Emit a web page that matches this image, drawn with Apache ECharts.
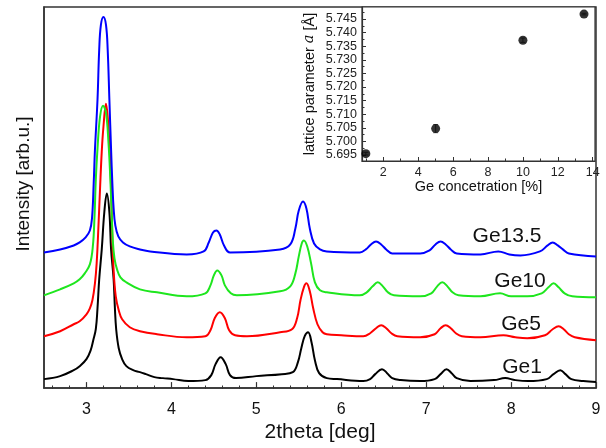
<!DOCTYPE html>
<html><head><meta charset="utf-8">
<script src="https://cdn.jsdelivr.net/npm/echarts@6/dist/echarts.min.js"></script>
<style>html,body{margin:0;padding:0;background:#fff}#c{width:606px;height:448px}</style>
</head><body><div id="c"></div>
<script>
// ---- Main XRD data: [2theta (deg), intensity (arb.u.)] ----
const ge1 = [[2.5,9],[2.69,12],[2.85,18],[2.92,22],[3.0,29],[3.05,38],[3.08,48],[3.11,59],[3.13,80],[3.15,109],[3.18,139],[3.21,176],[3.24,195],[3.27,176],[3.29,139],[3.32,109],[3.335,80],[3.35,59],[3.38,40],[3.42,29],[3.47,22],[3.55,18],[3.63,16],[3.7,14],[3.8,11],[3.9,10],[4.02,9],[4.2,7],[4.40,8],[4.47,13],[4.52,24],[4.58,31],[4.64,24],[4.69,13],[4.76,10],[5.0,12],[5.3,14],[5.43,16],[5.49,26],[5.53,40],[5.57,52],[5.61,56],[5.65,46],[5.69,28],[5.74,15],[5.83,10],[5.95,9],[6.26,7],[6.34,9],[6.40,14],[6.48,19],[6.54,15],[6.60,10],[6.7,8],[6.93,7],[7.10,9],[7.17,14],[7.24,19],[7.30,15],[7.36,10],[7.52,7],[7.8,8],[7.93,10],[8.05,8],[8.2,7],[8.42,9],[8.50,14],[8.58,18],[8.64,14],[8.71,9],[8.85,7],[9.0,6]];
const ge5 = [[2.5,52],[2.69,57],[2.85,64],[2.92,67],[3.0,74],[3.04,80],[3.07,88],[3.10,105],[3.12,125],[3.14,160],[3.16,200],[3.18,237],[3.20,262],[3.23,285],[3.25,272],[3.27,245],[3.285,215],[3.295,185],[3.305,150],[3.32,118],[3.345,92],[3.38,78],[3.42,69],[3.51,61],[3.63,57],[3.83,54],[4.18,51],[4.40,52],[4.46,58],[4.51,70],[4.57,76],[4.63,70],[4.68,58],[4.75,53],[4.89,52],[5.28,56],[5.42,59],[5.48,70],[5.52,88],[5.56,101],[5.59,105],[5.63,97],[5.67,80],[5.72,64],[5.78,56],[5.83,54],[6.0,53],[6.26,52],[6.34,55],[6.41,60],[6.47,63],[6.53,60],[6.59,55],[6.66,52],[6.93,51],[7.10,54],[7.17,60],[7.23,63],[7.29,60],[7.35,55],[7.42,52],[7.64,51],[7.91,53],[8.05,51],[8.19,50],[8.40,53],[8.49,59],[8.56,62],[8.62,59],[8.68,54],[8.75,51],[9.0,48]];
const ge10 = [[2.5,93],[2.69,99],[2.85,105],[2.92,109],[2.98,115],[3.04,124],[3.075,142],[3.095,172],[3.11,209],[3.13,240],[3.16,272],[3.195,283],[3.23,276],[3.26,245],[3.28,212],[3.295,180],[3.31,148],[3.33,130],[3.36,119],[3.40,111],[3.47,106],[3.63,99],[3.83,96],[4.18,92],[4.40,95],[4.46,103],[4.50,113],[4.54,118],[4.59,113],[4.63,103],[4.70,95],[4.77,93],[5.28,97],[5.40,102],[5.46,115],[5.50,132],[5.535,145],[5.56,148],[5.60,142],[5.645,125],[5.69,106],[5.75,98],[5.83,96],[6.22,93],[6.30,96],[6.37,102],[6.43,106],[6.49,102],[6.55,96],[6.62,93],[6.93,92],[7.06,95],[7.13,102],[7.19,106],[7.25,102],[7.31,96],[7.38,93],[7.64,92],[7.87,95],[8.0,92],[8.19,92],[8.36,95],[8.44,101],[8.50,105],[8.56,101],[8.63,95],[8.72,92],[9.0,91]];
const ge135 = [[2.5,136],[2.69,139],[2.85,143],[2.92,146],[2.99,151],[3.04,158],[3.065,170],[3.085,205],[3.10,239],[3.13,289],[3.15,339],[3.17,364],[3.20,372],[3.23,364],[3.25,339],[3.27,289],[3.29,239],[3.305,205],[3.32,180],[3.34,163],[3.375,152],[3.43,146],[3.51,142],[3.63,139],[3.75,137],[4.18,134],[4.38,137],[4.44,146],[4.49,156],[4.53,158],[4.57,154],[4.62,143],[4.69,136],[5.28,139],[5.40,144],[5.46,160],[5.50,178],[5.55,187],[5.59,180],[5.63,160],[5.68,145],[5.75,139],[5.83,137],[6.22,136],[6.29,139],[6.35,144],[6.41,147],[6.47,144],[6.53,139],[6.60,135],[6.93,135],[7.04,138],[7.11,144],[7.17,147],[7.23,144],[7.29,139],[7.36,135],[7.64,134],[7.85,137],[7.98,134],[8.11,133],[8.34,137],[8.43,143],[8.49,146],[8.55,143],[8.61,139],[8.68,135],[9.0,132]];
const seriesNames = ['Ge1','Ge5','Ge10','Ge13.5'];
const xMajor = [3,4,5,6,7,8,9];
const xMinor = [2.6,2.8,3.2,3.4,3.6,3.8,4.2,4.4,4.6,4.8,5.2,5.4,5.6,5.8,6.2,6.4,6.6,6.8,7.2,7.4,7.6,7.8,8.2,8.4,8.6,8.8];

// ---- Inset data ----
const geConc = [1, 5, 10, 13.5];
const latticeA = [5.6955, 5.7047, 5.7372, 5.7468];
const latticeErr = [0.0005, 0.0015, 0.0008, 0.0003];
const insetXMajor = [2,4,6,8,10,12,14];
const insetXMinor = [1,3,5,7,9,11,13];
const insetYMajor = [5.695,5.700,5.705,5.710,5.715,5.720,5.725,5.730,5.735,5.740,5.745];
const insetYMinor = [5.6975,5.7025,5.7075,5.7125,5.7175,5.7225,5.7275,5.7325,5.7375,5.7425,5.7475];

const FONT = 'Liberation Sans, Arial, sans-serif';
const AX = '#333';
const chart = echarts.init(document.getElementById('c'));

const mainGrid = {left:44, top:7, right:10, bottom:59};
const insetGrid = {left:362, top:7, right:11, bottom:287};

const colors = ['#000000','#ff0000','#1ee61e','#0000ff'];
const curves = [ge1, ge5, ge10, ge135];

const option = {
  animation:false,
  backgroundColor:'#fff',
  grid:[
    Object.assign({show:true, borderColor:AX, borderWidth:1.5, backgroundColor:'transparent'}, mainGrid),
    Object.assign({show:false}, mainGrid),
    Object.assign({show:true, borderColor:AX, borderWidth:1.2, backgroundColor:'#fff', z:5}, insetGrid),
    Object.assign({show:false}, insetGrid)
  ],
  xAxis:[
    {gridIndex:0, type:'value', min:2.5, max:9,
     name:'2theta [deg]', nameLocation:'middle', nameGap:33,
     nameTextStyle:{fontFamily:FONT, fontSize:21, color:'#111'},
     axisLine:{show:true, lineStyle:{color:AX, width:1.5}},
     axisTick:{show:true, inside:true, length:6, customValues:xMajor, lineStyle:{color:AX, width:1.2}},
     axisLabel:{show:true, customValues:xMajor, margin:13, fontFamily:FONT, fontSize:16, color:'#111'},
     splitLine:{show:false}},
    {gridIndex:1, type:'value', min:2.5, max:9,
     axisLine:{show:false},
     axisTick:{show:true, inside:true, length:3.5, customValues:xMinor, lineStyle:{color:AX, width:1}},
     axisLabel:{show:false}, splitLine:{show:false}},
    {gridIndex:2, type:'value', min:0.78, max:14.13,
     name:'Ge concetration [%]', nameLocation:'middle', nameGap:16,
     nameTextStyle:{fontFamily:FONT, fontSize:14.5, color:'#111'},
     axisLine:{show:true, lineStyle:{color:AX, width:1.2}},
     axisTick:{show:true, inside:true, length:4, customValues:insetXMajor, lineStyle:{color:AX, width:1}},
     axisLabel:{show:true, customValues:insetXMajor, margin:5, fontFamily:FONT, fontSize:12.5, color:'#222'},
     splitLine:{show:false}, z:6},
    {gridIndex:3, type:'value', min:0.78, max:14.13,
     axisLine:{show:false},
     axisTick:{show:true, inside:true, length:2.5, customValues:insetXMinor, lineStyle:{color:AX, width:1}},
     axisLabel:{show:false}, splitLine:{show:false}, z:6}
  ],
  yAxis:[
    {gridIndex:0, type:'value', min:0, max:382,
     axisLine:{show:true, lineStyle:{color:AX, width:1.5}},
     axisTick:{show:false}, axisLabel:{show:false}, splitLine:{show:false}},
    {gridIndex:1, type:'value', min:0, max:382, show:false},
    {gridIndex:2, type:'value', min:5.6928, max:5.7494,
     name:'lattice parameter {i|a} [Å]', nameLocation:'middle', nameGap:45,
     nameTextStyle:{fontFamily:FONT, fontSize:14.5, color:'#111',
       rich:{i:{fontFamily:'DejaVu Serif, serif', fontStyle:'italic', fontSize:14.5, color:'#111'}}},
     axisLine:{show:true, lineStyle:{color:AX, width:1.2}},
     axisTick:{show:true, inside:true, length:4, customValues:insetYMajor, lineStyle:{color:AX, width:1}},
     axisLabel:{show:true, customValues:insetYMajor, margin:5, fontFamily:FONT, fontSize:12.5, color:'#222',
       formatter:v=>Number(v).toFixed(3)},
     splitLine:{show:false}, z:6},
    {gridIndex:3, type:'value', min:5.6928, max:5.7494,
     axisLine:{show:false},
     axisTick:{show:true, inside:true, length:2.5, customValues:insetYMinor, lineStyle:{color:AX, width:1}},
     axisLabel:{show:false}, splitLine:{show:false}, z:6}
  ],
  series: curves.map((d,i)=>({
    name:seriesNames[i], type:'line', xAxisIndex:0, yAxisIndex:0,
    data:d, showSymbol:false, smooth:0.4,
    lineStyle:{color:colors[i], width:2}, z:2+i
  })).concat([
    {type:'custom', xAxisIndex:2, yAxisIndex:2, z:7,
     data: geConc.map((c,i)=>[c, latticeA[i]-latticeErr[i], latticeA[i]+latticeErr[i]]),
     renderItem:(params, api)=>{
       const lo = api.coord([api.value(0), api.value(1)]);
       const hi = api.coord([api.value(0), api.value(2)]);
       const w = 2.5;
       return {type:'group', children:[
         {type:'line', shape:{x1:lo[0], y1:lo[1], x2:hi[0], y2:hi[1]}, style:{stroke:'#666', lineWidth:1}},
         {type:'line', shape:{x1:lo[0]-w, y1:lo[1], x2:lo[0]+w, y2:lo[1]}, style:{stroke:'#666', lineWidth:1}},
         {type:'line', shape:{x1:hi[0]-w, y1:hi[1], x2:hi[0]+w, y2:hi[1]}, style:{stroke:'#666', lineWidth:1}}
       ]};
     }},
    {type:'scatter', xAxisIndex:2, yAxisIndex:2, z:8,
     data: geConc.map((c,i)=>[c, latticeA[i]]),
     symbol:'circle', symbolSize:9, itemStyle:{color:'#000'}}
  ]),
  graphic:[
    {type:'text', x:24, y:184, rotation:Math.PI/2, style:{text:'Intensity [arb.u.]', font:'19px '+FONT, fill:'#111', textAlign:'center', textVerticalAlign:'middle'}},
    {type:'text', x:507, y:236, style:{text:seriesNames[3], font:'21px '+FONT, fill:'#111', textAlign:'center', textVerticalAlign:'middle'}},
    {type:'text', x:520, y:281, style:{text:seriesNames[2], font:'21px '+FONT, fill:'#111', textAlign:'center', textVerticalAlign:'middle'}},
    {type:'text', x:521, y:324, style:{text:seriesNames[1], font:'21px '+FONT, fill:'#111', textAlign:'center', textVerticalAlign:'middle'}},
    {type:'text', x:522, y:367, style:{text:seriesNames[0], font:'21px '+FONT, fill:'#111', textAlign:'center', textVerticalAlign:'middle'}}
  ]
};
chart.setOption(option);
</script></body></html>
